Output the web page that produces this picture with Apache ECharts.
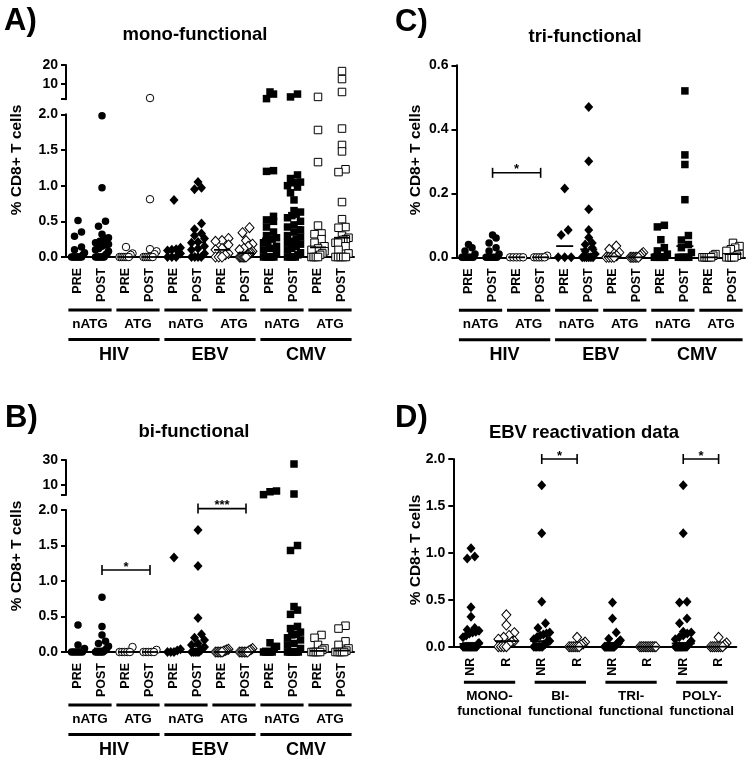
<!DOCTYPE html>
<html><head><meta charset="utf-8">
<script src="https://cdn.jsdelivr.net/npm/echarts@6/dist/echarts.min.js"></script>
<style>html,body{margin:0;padding:0;background:#fff}#c{width:749px;height:765px}</style>
</head><body><div id="c"></div>
<script>
// ---------------- DATA ----------------
const colLabels = ['PRE','POST','PRE','POST','PRE','POST','PRE','POST','PRE','POST','PRE','POST'];
const subGroups = ['nATG','ATG','nATG','ATG','nATG','ATG'];
const virusGroups = ['HIV','EBV','CMV'];
const dLabels = ['NR','R','NR','R','NR','R','NR','R'];
const dGroups = ['MONO-\nfunctional','BI-\nfunctional','TRI-\nfunctional','POLY-\nfunctional'];
const lowTicksAB = [0, 0.5, 1.0, 1.5, 2.0];
const highTicksA = [10, 20];
const highTicksB = [10, 30];

// A) mono-functional, lower segment (0-2 %)
const monoLow = [
  [0.51,0.35,0.29,0.14,0.1,0.06,0.03,0,0,0,0,0,0,0,0],
  [1.98,0.97,0.5,0.43,0.32,0.27,0.26,0.22,0.2,0.18,0.17,0.15,0.12,0.1,0.08,0.05,0.03,0,0,0,0,0,0,0],
  [0.14,0.05,0.03,0,0,0,0,0,0],
  [0.81,0.11,0.08,0.04,0,0,0,0,0,0],
  [0.8,0.13,0.11,0.1,0.09,0.05,0,0,0],
  [1.05,0.97,0.95,0.47,0.39,0.33,0.3,0.26,0.21,0.2,0.15,0.12,0.1,0.05,0,0,0,0],
  [0.26,0.23,0.22,0.17,0.12,0.1,0.05,0.03,0,0,0],
  [0.41,0.34,0.23,0.18,0.15,0.12,0.1,0.08,0.06,0.05,0.03,0.02,0,0,0,0,0,0],
  [1.21,1.2,0.57,0.52,0.5,0.42,0.35,0.3,0.27,0.25,0.22,0.2,0.15,0.12,0.1,0.05,0,0,0,0,0],
  [1.15,1.1,1.05,1.04,1.0,0.98,0.9,0.8,0.65,0.63,0.6,0.58,0.55,0.5,0.45,0.42,0.38,0.35,0.3,0.28,0.25,0.22,0.2,0.18,0.15,0.12,0.1,0.06,0.03,0,0,0,0],
  [1.78,1.33,0.44,0.33,0.32,0.25,0.2,0.15,0.12,0.1,0.08,0.05,0.03,0,0,0,0],
  [1.8,1.57,1.48,1.23,1.19,0.77,0.53,0.42,0.41,0.3,0.27,0.25,0.24,0.22,0.2,0.2,0.15,0.1,0.05,0,0,0,0,0]
];
// A) mono-functional, upper segment (>2 %)
const monoHigh = [[],[],[],[2.6],[],[],[],[],[4.7,2.3,5.8],[4.7,3.2],[3.2],[12.6,16.8,5.8]];

// B) bi-functional, lower segment
const biLow = [
  [0.38,0.1,0.05,0,0,0,0,0,0],
  [0.77,0.36,0.24,0.15,0.12,0.08,0.05,0.02,0,0,0,0,0],
  [0.07,0,0,0,0,0],
  [0.03,0,0,0,0,0],
  [1.33,0.04,0.02,0,0,0],
  [1.72,1.21,0.48,0.25,0.2,0.17,0.12,0.1,0.07,0.05,0.02,0,0,0,0,0],
  [0.04,0.03,0.02,0.01,0,0,0,0,0],
  [0.05,0.03,0.02,0,0,0,0,0,0],
  [0.13,0.08,0.05,0,0,0,0,0],
  [1.5,1.43,0.64,0.59,0.53,0.36,0.33,0.28,0.25,0.24,0.2,0.17,0.12,0.1,0.05,0,0,0,0,0,0],
  [0.24,0.2,0.1,0.05,0.03,0,0,0,0,0],
  [0.37,0.33,0.15,0.1,0.05,0.02,0,0,0,0,0]
];
const biHigh = [[],[],[],[],[],[],[],[],[4.6,2.3,5.2],[26.8,2.8],[],[]];

// C) tri-functional
const triData = [
  [0.04,0.03,0.02,0.01,0,0,0,0,0,0,0],
  [0.07,0.06,0.045,0.03,0.02,0.01,0,0,0,0,0,0],
  [0,0,0,0,0],
  [0.005,0,0,0,0,0],
  [0.215,0.085,0.07,0,0,0],
  [0.47,0.3,0.15,0.085,0.062,0.045,0.04,0.03,0.02,0.01,0,0,0,0,0,0],
  [0.035,0.025,0.015,0.005,0,0,0,0],
  [0.015,0.01,0.005,0,0,0,0,0,0],
  [0.1,0.095,0.055,0.03,0.02,0.01,0,0,0,0,0],
  [0.52,0.32,0.29,0.18,0.068,0.054,0.04,0.03,0.015,0,0,0,0,0],
  [0.01,0.005,0,0,0,0,0],
  [0.045,0.035,0.03,0.025,0.02,0.01,0.005,0,0,0,0]
];

// D) EBV reactivation data
const ebvData = [
  [1.05,0.96,0.94,0.42,0.32,0.2,0.18,0.17,0.16,0.15,0.14,0.12,0.1,0.04,0.03,0,0,0,0,0,0,0,0,0,0,0,0,0,0],
  [0.34,0.23,0.15,0.12,0.1,0.08,0.06,0.05,0.03,0,0,0,0],
  [1.72,1.21,0.48,0.25,0.2,0.15,0.14,0.13,0.12,0.1,0.08,0.06,0.06,0.05,0.03,0.02,0,0,0,0,0,0,0],
  [0.1,0.05,0.03,0.02,0,0,0,0,0,0],
  [0.47,0.3,0.15,0.085,0.07,0.06,0.04,0.04,0.03,0.02,0.01,0,0,0,0,0,0,0,0,0,0,0,0],
  [0,0,0,0,0,0,0,0,0,0],
  [1.72,1.21,0.48,0.47,0.3,0.25,0.16,0.15,0.14,0.12,0.1,0.08,0.06,0.04,0.03,0.02,0,0,0,0,0,0,0,0,0,0,0,0],
  [0.1,0.04,0.02,0,0,0,0,0,0,0]
];

// significance brackets: grid, from column, to column, value
const sigBrackets = [
  {grid:2, from:1, to:3, y:1.155, mark:'*'},
  {grid:2, from:5, to:7, y:2.02, mark:'***'},
  {grid:4, from:1, to:3, y:0.264, mark:'*'},
  {grid:5, from:2, to:3, y:2.0, mark:'*'},
  {grid:5, from:6, to:7, y:2.0, mark:'*'}
];

// ---------------- LAYOUT ----------------
const FF = '"Liberation Sans", Arial, Helvetica, sans-serif';
const grids = [
  {left:66, top:114.3, width:288, height:142.7},   // 0 A low
  {left:66, top:65, width:288, height:34.2},       // 1 A high
  {left:66, top:510, width:288, height:142},       // 2 B low
  {left:66, top:460, width:288, height:35},        // 3 B high
  {left:456.5, top:65.3, width:288.5, height:192}, // 4 C
  {left:453.3, top:459, width:283, height:187.7}   // 5 D
];
const yRanges = [[0,2],[2,20],[0,2],[2,30],[0,0.6],[0,2]];

const STYLE = {
  fc:{symbol:'circle', symbolSize:7.5, itemStyle:{color:'#000', opacity:1}},
  oc:{symbol:'circle', symbolSize:7.5, itemStyle:{color:'#fff', borderColor:'#000', borderWidth:1, opacity:1}},
  fd:{symbol:'diamond', symbolSize:[9,10], itemStyle:{color:'#000', opacity:1}},
  od:{symbol:'diamond', symbolSize:[9,10], itemStyle:{color:'#fff', borderColor:'#000', borderWidth:1, opacity:1}},
  fs:{symbol:'rect', symbolSize:7.5, itemStyle:{color:'#000', opacity:1}},
  os:{symbol:'rect', symbolSize:7.5, itemStyle:{color:'#fff', borderColor:'#000', borderWidth:1, opacity:1}}
};
const colStyle12 = ['fc','fc','oc','oc','fd','fd','od','od','fs','fs','os','os'];
const colStyleD = ['fd','od','fd','od','fd','od','fd','od'];

// deterministic column-scatter layout (rows of near-equal values spread sideways)
function swarmOffsets(pix, d, W) {
  const idx = pix.map((v,i)=>i).sort((a,b)=>pix[a]-pix[b]);
  const offs = new Array(pix.length).fill(0);
  let row = [], y0 = null;
  const flush = () => {
    const n = row.length; if (!n) return;
    const step = n > 1 ? Math.min(d, W/(n-1)) : 0;
    row.forEach((k,i)=>{ offs[k] = (i-(n-1)/2)*step; });
    row = [];
  };
  idx.forEach(k => {
    if (y0 === null || pix[k]-y0 >= d*0.9) { flush(); y0 = pix[k]; }
    row.push(k);
  });
  flush();
  return offs;
}
function median(a){ const s=a.slice().sort((x,y)=>x-y), n=s.length; if(!n) return null; return n%2 ? s[(n-1)/2] : (s[n/2-1]+s[n/2])/2; }

const series = [];
function addPoints(cols, gi, styles, d, W) {
  const gr = grids[gi], ya = yRanges[gi];
  const pxX = gr.width/cols.length, pxY = gr.height/(ya[1]-ya[0]);
  const buckets = {};
  cols.forEach((vals,c) => {
    const offs = swarmOffsets(vals.map(v=>(v-ya[0])*pxY), d, W);
    vals.forEach((v,i) => { (buckets[styles[c]] = buckets[styles[c]] || []).push([c + offs[i]/pxX, v]); });
  });
  Object.keys(buckets).forEach(k => {
    const st = JSON.parse(JSON.stringify(STYLE[k]));
    series.push(Object.assign({type:'scatter', xAxisIndex:gi, yAxisIndex:gi, data:buckets[k], silent:true, z:2}, st));
  });
}
function addMedians(colsLow, colsHigh, gi, w) {
  const data = colsLow.map((v,c) => [c, median(v.concat(colsHigh ? colsHigh[c] : []))]).filter(p => p[1] !== null && p[1] <= yRanges[gi][1]);
  series.push({type:'scatter', xAxisIndex:gi, yAxisIndex:gi, data, symbol:'rect', symbolSize:[w,1.8], itemStyle:{color:'#000', opacity:1}, silent:true, z:4});
}

addPoints(monoLow, 0, colStyle12, 7, 13);
addPoints(monoHigh, 1, colStyle12, 7, 13);
addMedians(monoLow, monoHigh, 0, 16);
addPoints(biLow, 2, colStyle12, 7, 13);
addPoints(biHigh, 3, colStyle12, 7, 13);
addMedians(biLow, biHigh, 2, 16);
addPoints(triData, 4, colStyle12, 7, 13);
addMedians(triData, null, 4, 17);
addPoints(ebvData, 5, colStyleD, 7.5, 16);
addMedians(ebvData, null, 5, 23);

const labelStyle = {color:'#000', fontSize:14, fontWeight:'bold', fontFamily:FF};
function xAxis(gi, n, labels, show) {
  return {
    gridIndex:gi, type:'value', min:-0.5, max:n-0.5, show:show,
    axisLine:{show:true, onZero:false, lineStyle:{color:'#000', width:2}},
    axisTick:{show:false}, splitLine:{show:false},
    axisLabel: Object.assign({}, labelStyle, {fontSize:12.5, rotate:90, margin:11,
      customValues: labels.map((l,i)=>i), formatter: v => labels[Math.round(v)] || ''})
  };
}
function yAxis(gi, min, max, tickVals, labelVals, fmt) {
  return {
    gridIndex:gi, type:'value', min, max,
    axisLine:{show:true, onZero:false, lineStyle:{color:'#000', width:2}},
    axisTick:{show:true, length:5, lineStyle:{color:'#000', width:2}, customValues:tickVals},
    splitLine:{show:false},
    axisLabel: Object.assign({}, labelStyle, {margin:8, customValues:labelVals, formatter:fmt})
  };
}
const f1 = v => Number(v).toFixed(1);
const f0 = v => String(Math.round(v));

const option = {
  animation:false,
  backgroundColor:'#fff',
  grid: grids.map(g => Object.assign({outerBoundsMode:'none', containLabel:false}, g)),
  xAxis: [
    xAxis(0,12,colLabels,true), xAxis(1,12,colLabels,false),
    xAxis(2,12,colLabels,true), xAxis(3,12,colLabels,false),
    xAxis(4,12,colLabels,true), xAxis(5,8,dLabels,true)
  ],
  yAxis: [
    yAxis(0,0,2,lowTicksAB,lowTicksAB,f1),
    yAxis(1,2,20,[2].concat(highTicksA),highTicksA,f0),
    yAxis(2,0,2,lowTicksAB,lowTicksAB,f1),
    yAxis(3,2,30,[2].concat(highTicksB),highTicksB,f0),
    yAxis(4,0,0.6,[0,0.2,0.4,0.6],[0,0.2,0.4,0.6],f1),
    yAxis(5,0,2,lowTicksAB,lowTicksAB,f1)
  ],
  series
};

const chart = echarts.init(document.getElementById('c'), null, {renderer:'canvas'});
chart.setOption(option);

// ---------------- ANNOTATIONS ----------------
const g = [];
function px(gi,x,y){ return chart.convertToPixel({gridIndex:gi},[x,y]); }
function line(x1,y1,x2,y2,w){ g.push({type:'line', silent:true, shape:{x1,y1,x2,y2}, style:{stroke:'#000', lineWidth:w}}); }
function text(x,y,t,size,o){ o=o||{}; g.push({type:'text', silent:true, x, y, rotation:o.rot||0,
  style:{text:t, fontSize:size, fontWeight:'bold', fontFamily:FF, fill:'#000', align:o.align||'center', verticalAlign:o.va||'middle', lineHeight:o.lh||size*1.2}}); }

function groupRows(gi){
  const y0 = px(gi,0,0)[1];
  for (let k=0;k<6;k++){ const a=px(gi,2*k-0.4,0)[0], b=px(gi,2*k+1.4,0)[0]; line(a,y0+53,b,y0+53,3); text((a+b)/2,y0+67,subGroups[k],13.5); }
  for (let k=0;k<3;k++){ const a=px(gi,4*k-0.4,0)[0], b=px(gi,4*k+3.4,0)[0]; line(a,y0+82.5,b,y0+82.5,3); text((a+b)/2,y0+98,virusGroups[k],18); }
}
groupRows(0); groupRows(2); groupRows(4);
(function(){
  const y0 = px(5,0,0)[1];
  for (let k=0;k<4;k++){ const a=px(5,2*k-0.2,0)[0], b=px(5,2*k+1.25,0)[0]; line(a,y0+35.5,b,y0+35.5,3); text((a+b)/2,y0+57.5,dGroups[k],13.5,{lh:15}); }
})();
sigBrackets.forEach(s => {
  const p1 = px(s.grid,s.from,s.y), p2 = px(s.grid,s.to,s.y);
  line(p1[0],p1[1],p2[0],p1[1],1.6);
  line(p1[0],p1[1]-5,p1[0],p1[1]+5,1.6);
  line(p2[0],p1[1]-5,p2[0],p1[1]+5,1.6);
  text((p1[0]+p2[0])/2, p1[1]-3, s.mark, 13);
});
// titles, panel letters, axis names
text(4,21,'A)',31,{align:'left'});
text(395,22,'C)',31,{align:'left'});
text(5,418,'B)',31,{align:'left'});
text(395,418,'D)',31,{align:'left'});
text(195,35,'mono-functional',18.5);
text(585,37,'tri-functional',18.5);
text(194,432,'bi-functional',18.5);
text(584,433,'EBV reactivation data',18.5);
text(17,160,'% CD8+ T cells',15.5,{rot:Math.PI/2});
text(416,160,'% CD8+ T cells',15.5,{rot:Math.PI/2});
text(17,556,'% CD8+ T cells',15.5,{rot:Math.PI/2});
text(416,550,'% CD8+ T cells',15.5,{rot:Math.PI/2});

chart.setOption({graphic:g});
</script>
</body></html>
